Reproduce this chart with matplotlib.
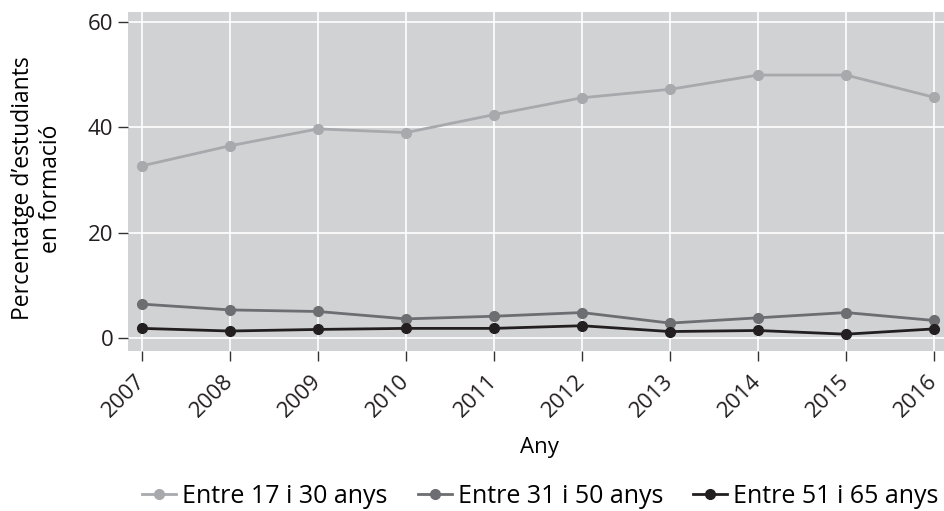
import matplotlib
matplotlib.use('Agg')
import matplotlib.pyplot as plt

plt.rcParams['font.family'] = ['Open Sans', 'DejaVu Sans']
plt.rcParams['font.size'] = 16

# dades
anys = [2007, 2008, 2009, 2010, 2011, 2012, 2013, 2014, 2015, 2016]
entre_17_30 = [32.7, 36.5, 39.7, 39.0, 42.4, 45.6, 47.2, 49.9, 49.9, 45.7]
entre_31_50 = [6.5, 5.4, 5.1, 3.7, 4.2, 4.9, 2.9, 3.9, 4.9, 3.4]
entre_51_65 = [1.9, 1.4, 1.7, 1.9, 1.9, 2.4, 1.3, 1.5, 0.8, 1.8]
etiquetes = ['Entre 17 i 30 anys', 'Entre 31 i 50 anys', 'Entre 51 i 65 anys']
colors = ['#a8a9ad', '#6d6e71', '#231f20']

fig = plt.figure(figsize=(9.45, 5.11), dpi=100)
ax = fig.add_axes([0.1354, 0.314, 0.865, 0.662])
ax.set_facecolor('#d1d2d4')

for serie, lab, c in zip([entre_17_30, entre_31_50, entre_51_65], etiquetes, colors):
    ax.plot(anys, serie, '-o', color=c, lw=2, markersize=7, label=lab)

ax.set_xlim(2006.84, 2016.13)
ax.set_ylim(-2.3, 61.8)
ax.set_xticks(anys)
ax.set_xticklabels([str(a) for a in anys], rotation=45, ha='right', va='center',
                   rotation_mode='anchor')
ax.set_yticks([0, 20, 40, 60])
ax.grid(True, color='white', lw=1.2)
ax.set_axisbelow(True)
for s in ax.spines.values():
    s.set_visible(False)
ax.tick_params(axis='both', length=7, width=1, color='#333333', colors='#231f20')
ax.tick_params(axis='x', pad=13)

ax.set_xlabel('Any')
ax.xaxis.set_label_coords(0.503, -0.257)
ax.set_ylabel('Percentatge d’estudiants\nen formació', fontsize=16.5)
ax.yaxis.set_label_coords(-0.08, 0.479)

leg = fig.legend(loc='lower center', bbox_to_anchor=(0.572, -0.04), ncol=3, frameon=False,
                 fontsize=18, handlelength=1.35, columnspacing=1.2, handletextpad=0.25)

fig.savefig('out.png', dpi=100)
